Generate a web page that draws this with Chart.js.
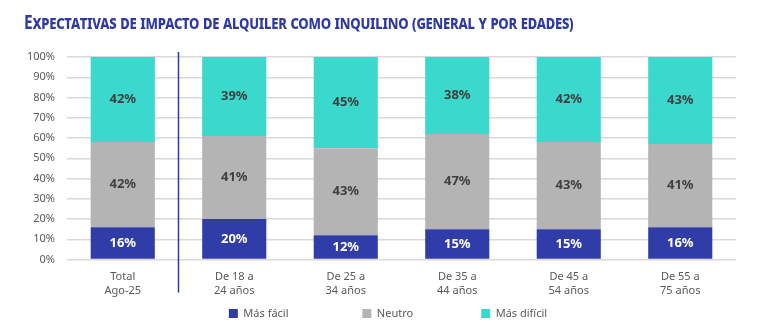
<!DOCTYPE html>
<html>
<head>
<meta charset="utf-8">
<script src="https://cdn.jsdelivr.net/npm/chart.js@4"></script>
<style>
  html, body { margin:0; padding:0; background:#fff; }
  #wrap { position:relative; width:765px; height:333px; }
  #title { position:absolute; left:24px; top:9px; font-family:"Noto Sans", sans-serif; font-weight:bold;
           font-size:19px; font-variant:small-caps; color:#2f3aa0; white-space:nowrap; letter-spacing:-0.3px;
           transform:scaleX(0.816); transform-origin:0 0; }
  #c { position:absolute; left:0; top:0; }
</style>
</head>
<body>
<div id="wrap">
  <canvas id="c" width="765" height="333"></canvas>
  <div id="title">Expectativas de impacto de alquiler como inquilino (general y por edades)</div>
</div>
<script>
// categories and series (percent)
const categories = [['Total','Ago-25'], ['De 18 a','24 años'], ['De 25 a','34 años'], ['De 35 a','44 años'], ['De 45 a','54 años'], ['De 55 a','75 años']];
const masFacil   = [16, 20, 12, 15, 15, 16];
const neutro     = [42, 41, 43, 47, 43, 41];
const masDificil = [42, 39, 45, 38, 42, 43];
const yTicks = [0, 10, 20, 30, 40, 50, 60, 70, 80, 90, 100];

const FONT = '"Noto Sans", sans-serif';

// values in the middle of each segment
const barLabels = {
  id: 'barLabels',
  afterDatasetsDraw(chart){
    const ctx = chart.ctx;
    ctx.save();
    ctx.font = 'bold 13px ' + FONT;
    ctx.textAlign = 'center';
    ctx.textBaseline = 'middle';
    chart.data.datasets.forEach((ds, i) => {
      chart.getDatasetMeta(i).data.forEach((bar, j) => {
        ctx.fillStyle = i === 0 ? '#ffffff' : '#404040';
        const mid = (bar.y + bar.base) / 2;
        ctx.fillText(ds.data[j] + '%', bar.x, mid);
      });
    });
    ctx.restore();
  }
};

// separator between total and age groups
const separator = {
  id: 'separator',
  afterLayout(chart){
    // legend row sits a bit right of centre in the original
    chart.legend.left += 20;
    chart.legend.right += 20;
  },
  afterDraw(chart){
    const x = chart.scales.x;
    const px = (x.getPixelForValue(0) + x.getPixelForValue(1)) / 2;
    const a = chart.chartArea;
    const ctx = chart.ctx;
    ctx.save();
    ctx.strokeStyle = '#2f3aa0';
    ctx.lineWidth = 1.5;
    ctx.beginPath();
    ctx.moveTo(px, a.top - 5);
    ctx.lineTo(px, a.bottom + 33);
    ctx.stroke();
    ctx.restore();
  }
};

// wider gaps between legend items
const legendGap = [23, 21, 0];

new Chart(document.getElementById('c').getContext('2d'), {
  type: 'bar',
  data: {
    labels: categories,
    datasets: [
      { label:'Más fácil', data: masFacil, backgroundColor:'#303da8' },
      { label:'Neutro', data: neutro, backgroundColor:'#b4b4b4' },
      { label:'Más difícil', data: masDificil, backgroundColor:'#3bd8ce' }
    ]
  },
  options: {
    responsive:false,
    animation:false,
    datasets:{ bar:{ categoryPercentage:1, barPercentage:0.575, borderWidth:0 } },
    layout:{ padding:{ top:57, right:29, bottom:4, left:0 } },
    plugins:{
      legend:{ position:'bottom', labels:{ boxWidth:9, boxHeight:9, padding:8, color:'#595959', font:{ family:FONT, size:11 },
        generateLabels(chart){
          const items = Chart.defaults.plugins.legend.labels.generateLabels(chart);
          items.forEach((it, i) => { it.text = it.text + '\u00a0'.repeat(legendGap[i]); });
          return items;
        } } },
      tooltip:{ enabled:false }
    },
    scales:{
      x:{ stacked:true, grid:{ display:false }, border:{ display:false },
          ticks:{ color:'#595959', font:{ family:FONT, size:11 }, padding:3 } },
      y:{ stacked:true, min:0, max:100, afterFit(s){ s.width = 67; },
          afterBuildTicks(s){ s.ticks = yTicks.map(v => ({ value:v })); },
          grid:{ color:'#d9d9d9', lineWidth:1.5, drawTicks:false }, border:{ display:false },
          ticks:{ autoSkip:false, color:'#595959', font:{ family:FONT, size:11 }, padding:12, callback:v => v + '%' } }
    }
  },
  plugins:[barLabels, separator]
});
</script>
</body>
</html>
